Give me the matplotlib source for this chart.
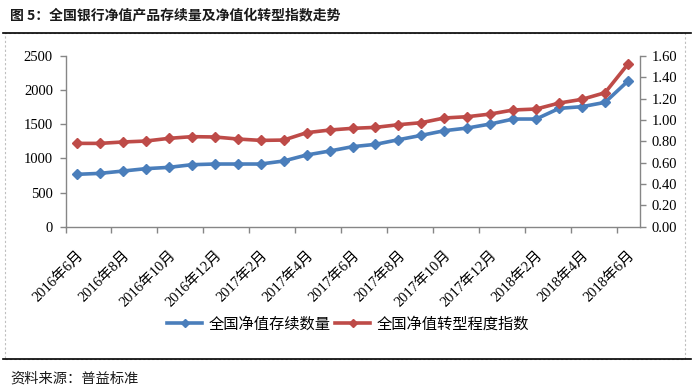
import matplotlib
matplotlib.use("Agg")
import matplotlib.pyplot as plt
from matplotlib.lines import Line2D
from matplotlib.patches import Rectangle
import numpy as np

# ---- data ----
months = [f"2016年{m}月" for m in range(6, 13)] + [f"2017年{m}月" for m in range(1, 13)] + [f"2018年{m}月" for m in range(1, 7)]
count_values = [767, 781, 815, 850, 869, 908, 918, 918, 918, 962, 1050, 1108, 1172,
                1206, 1274, 1338, 1406, 1445, 1504, 1577, 1577, 1733, 1758, 1821, 2134]
index_values = [0.781, 0.781, 0.794, 0.803, 0.828, 0.844, 0.841, 0.822, 0.809, 0.812, 0.881, 0.906, 0.922,
                0.931, 0.956, 0.975, 1.019, 1.031, 1.056, 1.094, 1.103, 1.159, 1.194, 1.256, 1.525]
series_names = ["全国净值存续数量", "全国净值转型程度指数"]
left_ticks = [0, 500, 1000, 1500, 2000, 2500]
right_ticks = [0.0, 0.2, 0.4, 0.6, 0.8, 1.0, 1.2, 1.4, 1.6]
title_text = "图 5：全国银行净值产品存续量及净值化转型指数走势"
source_text = "资料来源：普益标准"

SERIF = ["Liberation Serif", "Noto Sans CJK SC"]
CJK = ["Noto Sans CJK SC", "DejaVu Sans"]
BLUE = "#4A7EBB"
RED = "#BE4B48"
AXC = "#868686"

fig = plt.figure(figsize=(6.98, 3.92), dpi=100)
W, H = 698, 392

# frame: dashed box + black lines
fig.patches.append(Rectangle((4.5 / W, 1 - 359 / H), 680 / W, (359 - 33) / H, transform=fig.transFigure,
                             fill=False, edgecolor="#BFBFBF", linestyle=(0, (2, 2)), linewidth=0.8))
fig.add_artist(Line2D([3 / W, 0.99], [1 - 33 / H, 1 - 33 / H], transform=fig.transFigure, color="black", linewidth=1.2))
fig.add_artist(Line2D([3 / W, 0.99], [1 - 359 / H, 1 - 359 / H], transform=fig.transFigure, color="black", linewidth=1.2))

fig.text(10 / W, 1 - 15 / H, title_text, fontsize=10, fontweight="bold", family=CJK, va="center", ha="left", color="#1a1a1a")
fig.text(10 / W, 1 - 379 / H, source_text, fontsize=10.3, family=CJK, va="center", ha="left", color="#1a1a1a")

left, right = 65.5 / W, 639.5 / W
bottom, top = 1 - 226.7 / H, 1 - 56 / H
ax = fig.add_axes([left, bottom, right - left, top - bottom])
ax2 = ax.twinx()

x = np.arange(len(months))
l1, = ax.plot(x, count_values, color=BLUE, linewidth=2.6, marker="D", markersize=5.5, label=series_names[0])
l2, = ax2.plot(x, index_values, color=RED, linewidth=2.6, marker="D", markersize=5.5, label=series_names[1])

ax.set_xlim(-0.5, len(months) - 0.5)
ax.set_ylim(0, 2500)
ax2.set_ylim(0, 1.6)
ax.set_yticks(left_ticks)
ax.set_yticklabels([str(v) for v in left_ticks], family=SERIF, fontsize=10.5)
ax2.set_yticks(right_ticks)
ax2.set_yticklabels([f"{v:.2f}" for v in right_ticks], family=SERIF, fontsize=10.5)

label_pos = x[::2]
ax.set_xticks(label_pos)
ax.set_xticklabels([months[i] for i in label_pos], rotation=45, ha="right", rotation_mode="anchor",
                   family=SERIF, fontsize=10.5)
ax.set_xticks(np.arange(-0.5, len(months) - 0.5, 2), minor=True)
ax.tick_params(axis="x", which="major", length=0, pad=16)
ax.tick_params(axis="x", which="minor", length=4, color=AXC, width=1)
ax.tick_params(axis="y", length=4, color=AXC, width=1, pad=5)
ax2.tick_params(axis="y", length=4, color=AXC, width=1, pad=5)

for a in (ax, ax2):
    a.spines["top"].set_visible(False)
    for s in ("left", "right", "bottom"):
        a.spines[s].set_color(AXC)
        a.spines[s].set_linewidth(1)
ax.spines["right"].set_visible(False)
ax2.spines["left"].set_visible(False)
ax2.spines["bottom"].set_visible(False)

fig.legend(handles=[l1, l2], labels=series_names, loc="center", bbox_to_anchor=(348 / W, 1 - 324 / H),
           ncol=2, frameon=False, prop={"family": CJK, "size": 11}, handlelength=2.3, columnspacing=0.3,
           handletextpad=0.4, markerscale=0.7)

fig.savefig("out.png", dpi=100)
